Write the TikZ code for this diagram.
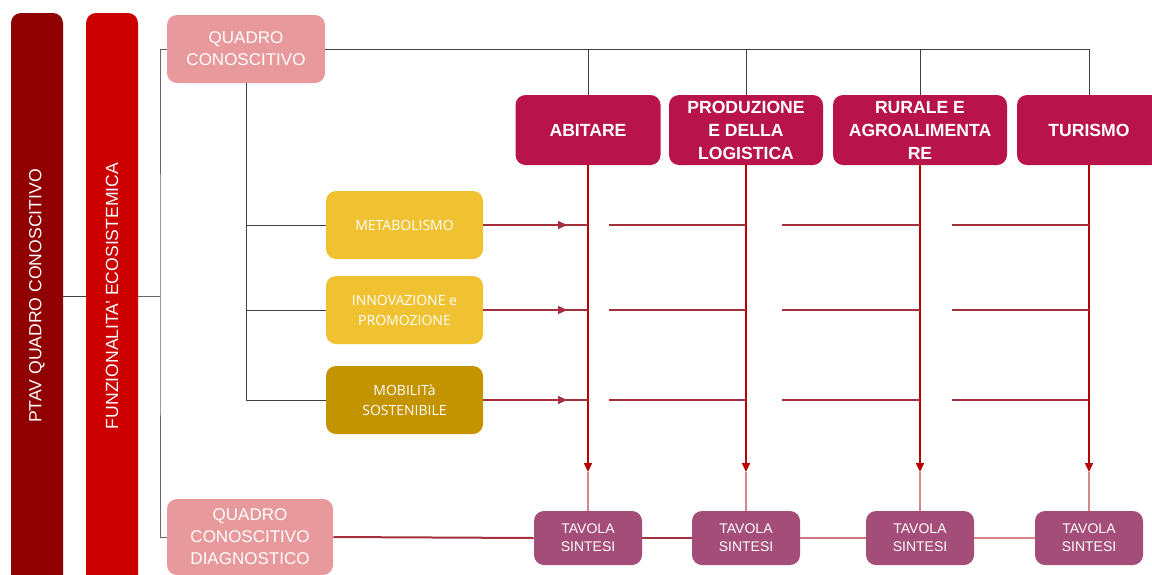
\documentclass[tikz,border=0pt]{standalone}
\usepackage{fontspec}
\setmainfont{Liberation Sans}
\newfontfamily\temafont{Open Sans}
\usetikzlibrary{arrows.meta,decorations.markings}
\definecolor{ptav}{HTML}{900000}
\definecolor{funz}{HTML}{CC0000}
\definecolor{quadro}{HTML}{E8999B}
\definecolor{ambito}{HTML}{B8134A}
\definecolor{tema}{HTML}{F0C232}
\definecolor{mobil}{HTML}{C39300}
\definecolor{tavola}{HTML}{A44D78}
\definecolor{flusso}{HTML}{A3303C}
\definecolor{chiaro}{HTML}{D9868E}
\begin{document}
\begin{tikzpicture}[x=0.5pt,y=-0.5pt,
    box/.style={rounded corners=5pt, inner sep=0pt, text=white, align=center},
    bar/.style={box, rotate=90, minimum width=300pt, minimum height=26pt,
        font=\fontsize{8.8}{11}\selectfont},
    quadrobox/.style={box, fill=quadro, font=\fontsize{8.5}{11}\selectfont},
    ambitobox/.style={box, fill=ambito, minimum height=35pt,
        font=\fontsize{8.8}{11.5}\selectfont\bfseries},
    temabox/.style={box, fill=tema, minimum width=78.5pt, minimum height=34pt,
        font=\fontsize{7}{10}\selectfont\temafont},
    tavbox/.style={box, fill=tavola, minimum width=54pt, minimum height=27pt,
        font=\fontsize{7}{9}\selectfont},
    albero/.style={draw=black!75, line width=0.5pt},
    verso/.style={draw=funz!90!black, line width=0.75pt},
    flow/.style={draw=flusso, line width=0.6pt},
    midarrow/.style={postaction={decorate}, decoration={markings,
        mark=at position #1 with {\arrow{Triangle[length=4.5pt,width=4pt]}}}}]
\useasboundingbox (0,0) rectangle (1152,574);

\node[bar, fill=ptav] (ptav) at (37,313) {\hspace*{17pt}PTAV QUADRO CONOSCITIVO};
\node[bar, fill=funz] (funz) at (112,313) {\hspace*{17pt}FUNZIONALITA' ECOSISTEMICA};
\node[quadrobox, minimum width=79pt, minimum height=34pt] (qc) at (246,49)
    {QUADRO\\CONOSCITIVO};
\node[quadrobox, minimum width=83pt, minimum height=38pt] (qcd) at (250,537)
    {QUADRO\\CONOSCITIVO\\DIAGNOSTICO};

\node[temabox] (met) at (404.5,225) {METABOLISMO};
\node[temabox] (inn) at (404.5,310) {INNOVAZIONE e\\PROMOZIONE};
\node[temabox, fill=mobil] (mob) at (404.5,400) {MOBILITà\\SOSTENIBILE};

\node[ambitobox, minimum width=72.5pt] (abi) at (588,130) {ABITARE};
\node[ambitobox, minimum width=77pt] (pro) at (746,130) {PRODUZIONE\\E DELLA\\LOGISTICA};
\node[ambitobox, minimum width=87pt] (rur) at (920,130) {RURALE E\\AGROALIMENTA\\RE};
\node[ambitobox, minimum width=72pt] (tur) at (1089,130) {TURISMO};

\foreach \n in {abi,pro,rur,tur}
    \node[tavbox] (tav\n) at (\n.south |- 0,538) {TAVOLA\\SINTESI};

% struttura
\coordinate (brk) at (160,296);
\coordinate (punta) at (0,472);
\draw[albero] (ptav.south |- brk) -- (funz.north |- brk);
\draw[albero, draw=black!60] (funz.south |- brk) -- (brk);
\draw[albero, draw=black!60] (qc.west) -| (brk) |- (qcd.west);
\draw[albero] (qc.east) -- (qc.east -| tur.north);
\foreach \n in {abi,pro,rur,tur}
    \draw[albero] (qc.east -| \n.north) -- (\n.north);
\draw[albero] (qc.south) |- (mob.west);
\foreach \t in {met,inn}
    \draw[albero] (qc.south |- \t.west) -- (\t.west);

% flussi
\foreach \n in {abi,pro,rur,tur}{
    \draw[verso, -{Triangle[length=4.5pt,width=4pt]}] (\n.south) -- (\n.south |- punta);
    \draw[chiaro, line width=0.75pt] (tav\n.north) -- (\n.south |- punta);
}
\foreach \t in {met,inn,mob}{
    \draw[flow, midarrow=0.8] (\t.east) -- (\t.east -| abi.south);
    \foreach \a/\b/\off in {abi/pro/21,pro/rur/36,rur/tur/32}
        \draw[flow] ([xshift={\off*0.5pt}]\t.east -| \a.south) -- (\t.east -| \b.south);
}
\draw[flusso, line width=1pt] (qcd.east) -- (tavabi.west);
\draw[flusso, line width=1pt] (tavabi.east) -- (tavpro.west);
\draw[chiaro!80!flusso, line width=1pt] (tavpro.east) -- (tavrur.west);
\draw[chiaro, line width=1pt] (tavrur.east) -- (tavtur.west);
\end{tikzpicture}
\end{document}
